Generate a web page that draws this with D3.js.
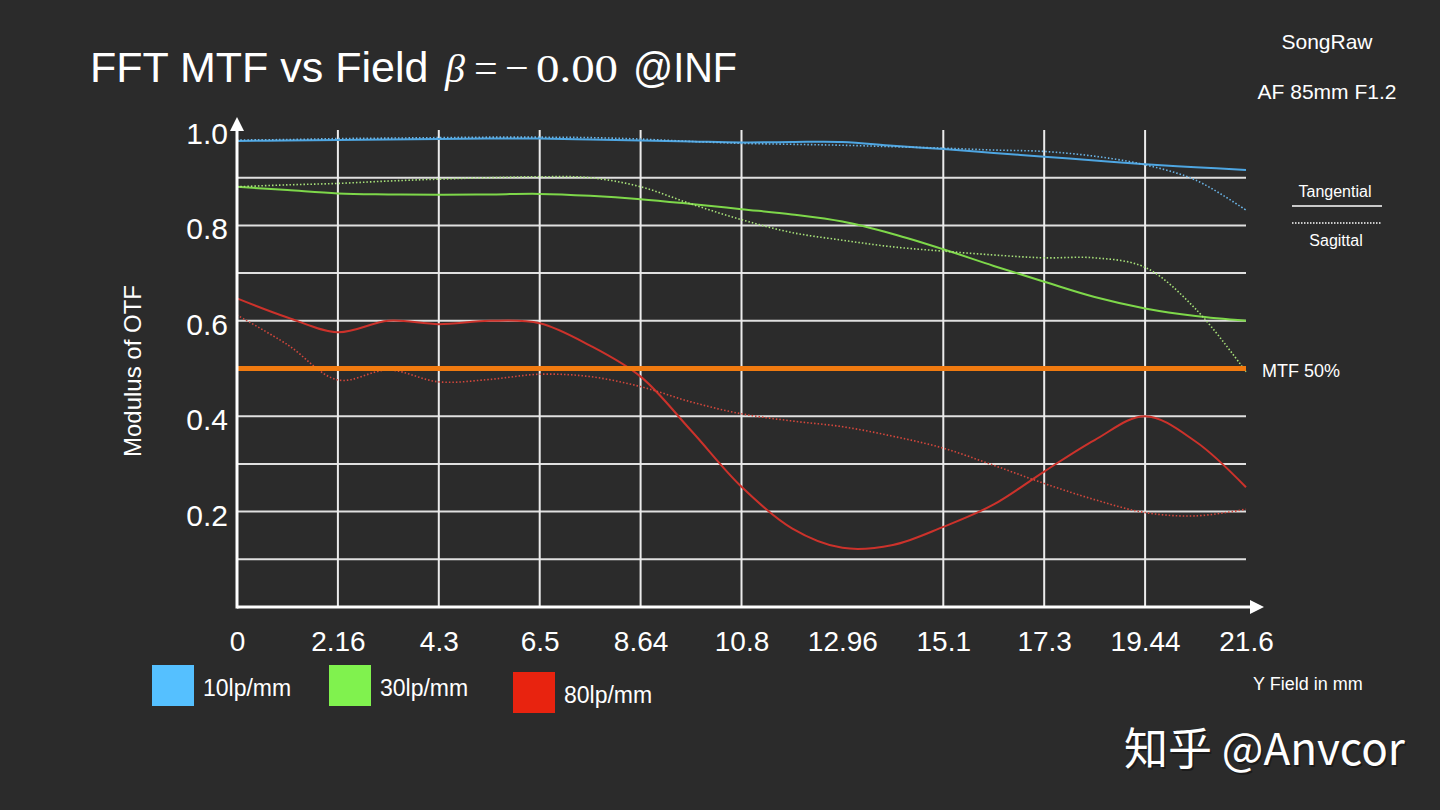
<!DOCTYPE html>
<html>
<head>
<meta charset="utf-8">
<script src="https://cdn.jsdelivr.net/npm/d3@7"></script>
<style>
  body { margin: 0; background: #2b2b2b; }
  svg { display: block; }
</style>
</head>
<body>
<div id="chart"></div>
<script>
////////////////////////////////////////////////////////////////
// Data

// sample positions along the field, in mm
let fields = [0, 1.08, 2.16, 3.24, 4.32, 5.4, 6.48, 7.56, 8.64, 9.72, 10.8,
              11.88, 12.96, 14.04, 15.12, 16.2, 17.28, 18.36, 19.44, 20.52, 21.6]

// 10lp/mm
let tan10 = [0.977, 0.978, 0.979, 0.980, 0.981, 0.982, 0.982, 0.980, 0.978, 0.976, 0.974,
             0.975, 0.975, 0.967, 0.960, 0.952, 0.944, 0.936, 0.928, 0.922, 0.916]
let sag10 = [0.979, 0.980, 0.982, 0.983, 0.984, 0.985, 0.985, 0.984, 0.981, 0.976, 0.972,
             0.970, 0.968, 0.965, 0.962, 0.958, 0.955, 0.945, 0.927, 0.895, 0.832]

// 30lp/mm
let tan30 = [0.881, 0.874, 0.867, 0.865, 0.864, 0.865, 0.866, 0.862, 0.855, 0.845, 0.834,
             0.823, 0.808, 0.782, 0.750, 0.715, 0.682, 0.650, 0.626, 0.610, 0.600]
let sag30 = [0.881, 0.885, 0.888, 0.893, 0.897, 0.900, 0.902, 0.900, 0.881, 0.845, 0.812,
             0.785, 0.769, 0.755, 0.746, 0.738, 0.732, 0.732, 0.712, 0.625, 0.493]

// 80lp/mm
let tan80 = [0.647, 0.607, 0.576, 0.600, 0.593, 0.600, 0.595, 0.548, 0.483, 0.370, 0.252,
             0.165, 0.124, 0.130, 0.168, 0.215, 0.284, 0.350, 0.400, 0.347, 0.251]
let sag80 = [0.612, 0.550, 0.476, 0.497, 0.472, 0.477, 0.488, 0.483, 0.462, 0.430, 0.405,
             0.390, 0.378, 0.358, 0.333, 0.297, 0.259, 0.225, 0.198, 0.191, 0.205]

let mtfLimit = 0.5

// axis ticks
let xTickValues = [0, 2.16, 4.32, 6.48, 8.64, 10.8, 12.96, 15.12, 17.28, 19.44, 21.6]
let xTickLabels = ["0", "2.16", "4.3", "6.5", "8.64", "10.8", "12.96", "15.1", "17.3", "19.44", "21.6"]
let xGridValues = [2.16, 4.32, 6.48, 8.64, 10.8, 15.12, 17.28, 19.44]
let yTickValues = [0.2, 0.4, 0.6, 0.8, 1.0]
let yGridValues = [0.1, 0.2, 0.3, 0.4, 0.5, 0.6, 0.7, 0.8, 0.9]

let legendNames = ["10lp/mm", "30lp/mm", "80lp/mm"]
let legendColors = ["#55c0ff", "#80f24e", "#e8230f"]


////////////////////////////////////////////////////////////////
// Setup

let svg = d3.select("#chart").append("svg")
  .attr("width", 1440)
  .attr("height", 810)

svg.append("rect")
  .attr("width", 1440).attr("height", 810)
  .attr("fill", "#2b2b2b")

let sans = "'Liberation Sans', Arial, Helvetica, sans-serif"
let serif = "'Liberation Serif', 'DejaVu Serif', serif"

let xScale = d3.scaleLinear().domain([0, 21.6]).range([237, 1246])
let yScale = d3.scaleLinear().domain([0, 1]).range([607, 130])


////////////////////////////////////////////////////////////////
// Grid

svg.append("g")
  .selectAll("line")
  .data(yGridValues)
  .enter()
  .append("line")
  .attr("x1", xScale(0)).attr("x2", xScale(21.6))
  .attr("y1", d => yScale(d)).attr("y2", d => yScale(d))
  .attr("stroke", "#e0e0e0")
  .attr("stroke-width", 2)

svg.append("g")
  .selectAll("line")
  .data(xGridValues)
  .enter()
  .append("line")
  .attr("x1", d => xScale(d)).attr("x2", d => xScale(d))
  .attr("y1", yScale(0)).attr("y2", yScale(1))
  .attr("stroke", "#ebebeb")
  .attr("stroke-width", 2)


////////////////////////////////////////////////////////////////
// Curves

let series = [
  {values: tan10, color: "#4ea6e2", dash: null},
  {values: sag10, color: "#6ab4e6", dash: "1.5,2"},
  {values: tan30, color: "#7ed84a", dash: null},
  {values: sag30, color: "#a8e27a", dash: "1.5,2"},
  {values: tan80, color: "#cc322b", dash: null},
  {values: sag80, color: "#d4473c", dash: "1.5,2"}
]

let line = d3.line()
  .x((d, i) => xScale(fields[i]))
  .y(d => yScale(d))
  .curve(d3.curveCatmullRom.alpha(0.5))

svg.append("g")
  .selectAll("path")
  .data(series)
  .enter()
  .append("path")
  .attr("d", d => line(d.values))
  .attr("fill", "none")
  .attr("stroke", d => d.color)
  .attr("stroke-width", d => d.dash ? 1.6 : 2)
  .attr("stroke-dasharray", d => d.dash)

// MTF 50% line
svg.append("line")
  .attr("x1", xScale(0)).attr("x2", xScale(21.6))
  .attr("y1", yScale(mtfLimit)).attr("y2", yScale(mtfLimit))
  .attr("stroke", "#f07a10")
  .attr("stroke-width", 5)

svg.append("text")
  .attr("x", 1262).attr("y", yScale(mtfLimit) + 8)
  .attr("font-family", sans).attr("font-size", 18)
  .attr("fill", "white")
  .text("MTF 50%")


////////////////////////////////////////////////////////////////
// Axes

let xAxis = d3.axisBottom(xScale)
  .tickValues(xTickValues)
  .tickFormat((d, i) => xTickLabels[i])
  .tickSize(0)
  .tickPadding(24)

let gx = svg.append("g")
  .attr("transform", `translate(0,${yScale(0)})`)
  .call(xAxis)
gx.select(".domain").remove()
gx.selectAll("text")
  .attr("font-family", sans).attr("font-size", 28)
  .attr("fill", "white")

let yAxis = d3.axisLeft(yScale)
  .tickValues(yTickValues)
  .tickFormat(d3.format(".1f"))
  .tickSize(0)
  .tickPadding(9)

let gy = svg.append("g")
  .attr("transform", `translate(${xScale(0)},0)`)
  .call(yAxis)
gy.select(".domain").remove()
gy.selectAll("text")
  .attr("font-family", sans).attr("font-size", 30)
  .attr("fill", "white")
  .attr("dy", "0.45em")

// axis lines with arrows
svg.append("line")
  .attr("x1", xScale(0)).attr("x2", 1252)
  .attr("y1", yScale(0)).attr("y2", yScale(0))
  .attr("stroke", "white").attr("stroke-width", 3)
svg.append("path")
  .attr("d", `M1264,${yScale(0)} L1250,${yScale(0) - 7} L1250,${yScale(0) + 7} Z`)
  .attr("fill", "white")

svg.append("line")
  .attr("x1", xScale(0)).attr("x2", xScale(0))
  .attr("y1", yScale(0) + 1.5).attr("y2", 128)
  .attr("stroke", "white").attr("stroke-width", 3)
svg.append("path")
  .attr("d", `M${xScale(0)},117 L${xScale(0) - 7},131 L${xScale(0) + 7},131 Z`)
  .attr("fill", "white")

svg.append("text")
  .attr("transform", "translate(141,371) rotate(-90)")
  .attr("text-anchor", "middle")
  .attr("font-family", sans).attr("font-size", 24)
  .attr("fill", "white")
  .text("Modulus of OTF")

svg.append("text")
  .attr("x", 1253).attr("y", 690)
  .attr("font-family", sans).attr("font-size", 18)
  .attr("fill", "white")
  .text("Y Field in mm")


////////////////////////////////////////////////////////////////
// Title and labels

let title = svg.append("text")
  .attr("y", 82)
  .attr("fill", "white")
  .attr("font-size", 43)
  .attr("font-family", sans)
title.append("tspan").attr("x", 90).text("FFT MTF vs Field")
title.append("tspan").attr("x", 445)
  .attr("font-family", serif)
  .attr("font-style", "italic").attr("font-size", 40)
  .text("β")
title.append("tspan").attr("x", 474)
  .attr("font-family", serif).attr("font-size", 42)
  .text("=")
title.append("tspan").attr("x", 505)
  .attr("font-family", serif).attr("font-size", 42)
  .text("−")
title.append("tspan").attr("x", 536)
  .attr("font-family", serif).attr("font-size", 40)
  .attr("textLength", 82).attr("lengthAdjust", "spacingAndGlyphs")
  .text("0.00")
title.append("tspan").attr("x", 633)
  .attr("textLength", 104).attr("lengthAdjust", "spacingAndGlyphs")
  .text("@INF")

svg.append("text")
  .attr("x", 1327).attr("y", 49)
  .attr("text-anchor", "middle")
  .attr("font-family", sans).attr("font-size", 21)
  .attr("fill", "white")
  .text("SongRaw")

svg.append("text")
  .attr("x", 1327).attr("y", 99)
  .attr("text-anchor", "middle")
  .attr("font-family", sans).attr("font-size", 21)
  .attr("fill", "white")
  .text("AF 85mm F1.2")

// tangential / sagittal key
svg.append("text")
  .attr("x", 1335).attr("y", 197)
  .attr("text-anchor", "middle")
  .attr("font-family", sans).attr("font-size", 16)
  .attr("fill", "white")
  .text("Tangential")
svg.append("line")
  .attr("x1", 1292).attr("x2", 1382).attr("y1", 206).attr("y2", 206)
  .attr("stroke", "white").attr("stroke-width", 1.5)
svg.append("line")
  .attr("x1", 1292).attr("x2", 1381).attr("y1", 223).attr("y2", 223)
  .attr("stroke", "white").attr("stroke-width", 1.5)
  .attr("stroke-dasharray", "1.5,1.5")
svg.append("text")
  .attr("x", 1336).attr("y", 246)
  .attr("text-anchor", "middle")
  .attr("font-family", sans).attr("font-size", 16)
  .attr("fill", "white")
  .text("Sagittal")

// colour legend
let legendX = [152, 329, 513]
let legendY = [665, 665, 672]

let legend = svg.append("g")
  .selectAll("g")
  .data(legendNames)
  .enter()
  .append("g")
  .attr("transform", (d, i) => `translate(${legendX[i]},${legendY[i]})`)

legend.append("rect")
  .attr("width", 42).attr("height", 41)
  .attr("fill", (d, i) => legendColors[i])

legend.append("text")
  .attr("x", 51).attr("y", 31)
  .attr("font-family", sans).attr("font-size", 23)
  .attr("fill", "white")
  .text(d => d)

// watermark
let mark = "知乎 @Anvcor"
svg.append("text")
  .attr("x", 1124).attr("y", 765)
  .attr("font-family", "'Noto Sans CJK SC', 'Noto Sans', sans-serif")
  .attr("font-size", 44)
  .attr("fill", "#111")
  .attr("opacity", 0.6)
  .attr("transform", "translate(1.5,1.5)")
  .text(mark)
svg.append("text")
  .attr("x", 1124).attr("y", 765)
  .attr("font-family", "'Noto Sans CJK SC', 'Noto Sans', sans-serif")
  .attr("font-size", 44)
  .attr("fill", "white")
  .text(mark)
</script>
</body>
</html>
